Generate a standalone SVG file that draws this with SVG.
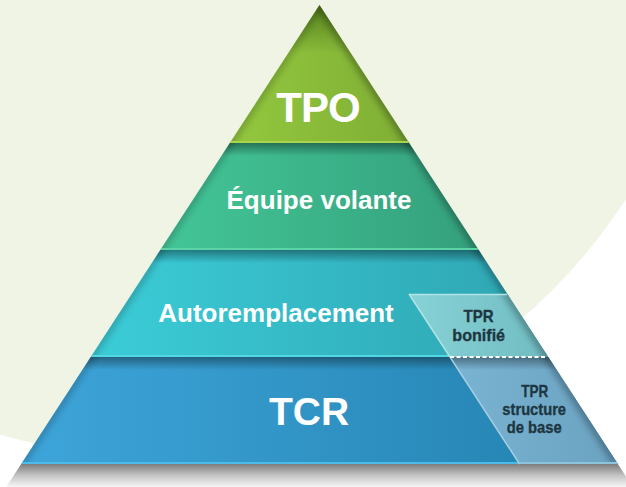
<svg xmlns="http://www.w3.org/2000/svg" width="626" height="487" viewBox="0 0 626 487">
  <defs>
    <style>
      .lbl { font-family: "Liberation Sans", Arial, sans-serif; font-weight: bold; fill: #ffffff; text-anchor: middle; }
      .tpr { font-family: "Liberation Sans", Arial, sans-serif; font-weight: bold; fill: #1d3641; stroke: #1d3641; stroke-width: 0.35; text-anchor: middle; font-size: 17px; }
    </style>
    <linearGradient id="gTPO" x1="0" y1="0" x2="1" y2="0">
      <stop offset="0" stop-color="#93c83e"/>
      <stop offset="1" stop-color="#7fae34"/>
    </linearGradient>
    <linearGradient id="gTPOtop" x1="0" y1="0" x2="0" y2="1">
      <stop offset="0" stop-color="#4f7a1a" stop-opacity="0.9"/>
      <stop offset="0.35" stop-color="#4f7a1a" stop-opacity="0"/>
    </linearGradient>
    <linearGradient id="gEQ" x1="0" y1="0" x2="1" y2="0">
      <stop offset="0" stop-color="#43c697"/>
      <stop offset="1" stop-color="#34a07c"/>
    </linearGradient>
    <linearGradient id="gAU" x1="0" y1="0" x2="1" y2="0">
      <stop offset="0" stop-color="#3bcdd8"/>
      <stop offset="1" stop-color="#2ea4b1"/>
    </linearGradient>
    <linearGradient id="gTC" x1="0" y1="0" x2="1" y2="0">
      <stop offset="0" stop-color="#3ea5da"/>
      <stop offset="1" stop-color="#2281ae"/>
    </linearGradient>
    <linearGradient id="gBON" x1="0" y1="0" x2="1" y2="0">
      <stop offset="0" stop-color="#86d2d6"/>
      <stop offset="1" stop-color="#70bcc1"/>
    </linearGradient>
    <linearGradient id="gBASE" x1="0" y1="0" x2="1" y2="0">
      <stop offset="0" stop-color="#7ab4d3"/>
      <stop offset="1" stop-color="#6aa2c0"/>
    </linearGradient>
    <linearGradient id="gTopShade" x1="0" y1="0" x2="0" y2="1">
      <stop offset="0" stop-color="#000" stop-opacity="0.38"/>
      <stop offset="1" stop-color="#000" stop-opacity="0"/>
    </linearGradient>
    <linearGradient id="gFloor" x1="0" y1="0" x2="0" y2="1">
      <stop offset="0" stop-color="#7d7d7d"/>
      <stop offset="0.5" stop-color="#c4c4c4"/>
      <stop offset="1" stop-color="#f6f6f6"/>
    </linearGradient>
    <clipPath id="pyr">
      <polygon points="319.5,5 617.85,464 21.15,464"/>
    </clipPath>
    <filter id="blur" x="-20%" y="-5%" width="140%" height="110%">
      <feGaussianBlur stdDeviation="3"/>
    </filter>
  </defs>

  <rect x="0" y="0" width="626" height="487" fill="#ffffff"/>
  <circle cx="153" cy="-108" r="564" fill="#f0f4e4"/>

  <!-- floor shadow -->
  <polygon points="21.15,464 617.85,464 632.8,487 6.2,487" fill="url(#gFloor)"/>

  <g id="tier-tpo">
    <polygon points="319.5,5 409.2,143 229.8,143" fill="url(#gTPO)"/>
    <polygon points="319.5,5 409.2,143 229.8,143" fill="url(#gTPOtop)"/>
  </g>
  <g id="tier-equipe">
    <polygon points="229.8,143 409.2,143 478.75,250 160.25,250" fill="url(#gEQ)"/>
  </g>
  <g id="tier-auto">
    <polygon points="160.25,250 478.75,250 548.3,357 90.7,357" fill="url(#gAU)"/>
  </g>
  <g id="tier-tcr">
    <polygon points="90.7,357 548.3,357 617.85,464 21.15,464" fill="url(#gTC)"/>
  </g>
  <g id="tpr-bonifie">
    <polygon points="409,294 507.35,294 548.3,357 450,357" fill="url(#gBON)"/>
  </g>
  <g id="tpr-base">
    <polygon points="450,357 548.3,357 617.85,464 519.55,464" fill="url(#gBASE)"/>
  </g>

  <!-- shading -->
  <g clip-path="url(#pyr)">
    <rect x="0" y="143" width="626" height="13" fill="url(#gTopShade)"/>
    <rect x="0" y="250" width="626" height="13" fill="url(#gTopShade)"/>
    <rect x="0" y="357" width="626" height="13" fill="url(#gTopShade)"/>
    <g filter="url(#blur)" stroke="#000" stroke-width="9" fill="none">
      <line x1="319.5" y1="5" x2="21.15" y2="464" stroke-opacity="0.18"/>
      <line x1="319.5" y1="5" x2="617.85" y2="464" stroke-opacity="0.28"/>
    </g>
  </g>

  <!-- highlight lines -->
  <g stroke-width="2" fill="none">
    <line x1="230.5" y1="142" x2="408.5" y2="142" stroke="#aad44c"/>
    <line x1="161" y1="249" x2="478" y2="249" stroke="#5cd3a6"/>
    <line x1="91.5" y1="356" x2="450" y2="356" stroke="#52d8e2"/>
    <line x1="22" y1="463" x2="519" y2="463" stroke="#4cbbea"/>
    <line x1="520" y1="463" x2="617" y2="463" stroke="#8ec3dc"/>
    <line x1="409" y1="294.5" x2="507" y2="294.5" stroke="#b2e3e5" stroke-width="1.5"/>
    <line x1="409" y1="294" x2="450" y2="357" stroke="#b2e3e5" stroke-width="1.5"/>
    <line x1="450" y1="357" x2="519.55" y2="464" stroke="#a6cfe2" stroke-width="1.5"/>
  </g>
  <line x1="450" y1="357" x2="547.5" y2="357" stroke="#ffffff" stroke-width="2" stroke-dasharray="4 2.5"/>

  <g id="connectors"/>

  <!-- labels -->
  <text class="lbl" x="318" y="121.5" font-size="42" letter-spacing="-1">TPO</text>
  <text class="lbl" x="319" y="209" font-size="26">Équipe volante</text>
  <text class="lbl" x="276" y="322" font-size="26">Autoremplacement</text>
  <text class="lbl" x="309" y="425" font-size="39">TCR</text>

  <text class="tpr" x="478.5" y="321.7" textLength="30" lengthAdjust="spacingAndGlyphs">TPR</text>
  <text class="tpr" x="478.7" y="341" textLength="52.7" lengthAdjust="spacingAndGlyphs">bonifié</text>

  <text class="tpr" x="534.7" y="397" textLength="27" lengthAdjust="spacingAndGlyphs">TPR</text>
  <text class="tpr" x="534.2" y="415" textLength="63.7" lengthAdjust="spacingAndGlyphs">structure</text>
  <text class="tpr" x="534.2" y="432.5" textLength="55" lengthAdjust="spacingAndGlyphs">de base</text>
</svg>
